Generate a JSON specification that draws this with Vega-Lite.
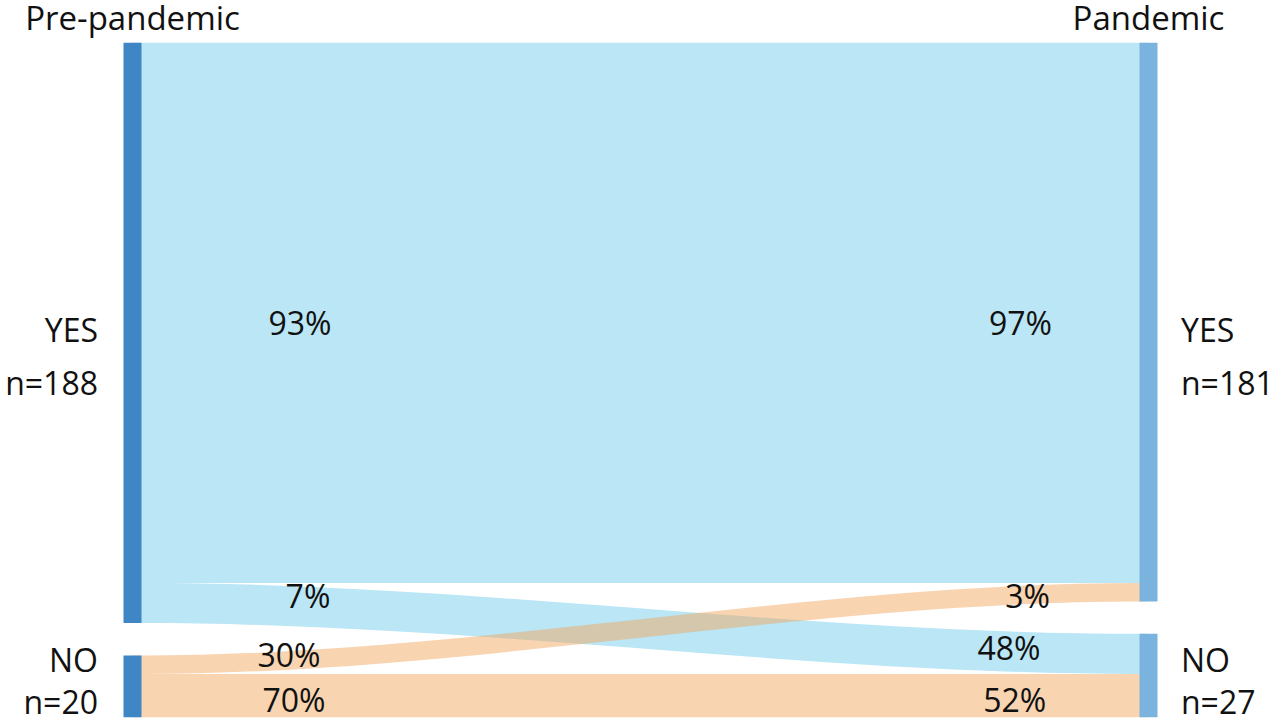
{
  "$schema": "https://vega.github.io/schema/vega-lite/v6.json",
  "width": 1280,
  "height": 724,
  "autosize": {"type": "none"},
  "padding": 0,
  "background": "white",
  "config": {
    "view": {"stroke": null},
    "text": {"font": "Open Sans", "fontSize": 32, "color": "#111111", "baseline": "alphabetic"}
  },
  "datasets": {
    "flows": [
      {"flow": "YES-YES", "from": "YES", "t": 0, "top": 0, "bottom": 175},
      {"flow": "YES-YES", "from": "YES", "t": 0.009, "top": 0, "bottom": 175},
      {"flow": "YES-YES", "from": "YES", "t": 0.991, "top": 0, "bottom": 175},
      {"flow": "YES-YES", "from": "YES", "t": 1, "top": 0, "bottom": 175},
      {"flow": "YES-NO", "from": "YES", "t": 0, "top": 175, "bottom": 188},
      {"flow": "YES-NO", "from": "YES", "t": 0.009, "top": 175, "bottom": 188},
      {"flow": "YES-NO", "from": "YES", "t": 0.991, "top": 191.5, "bottom": 204.5},
      {"flow": "YES-NO", "from": "YES", "t": 1, "top": 191.5, "bottom": 204.5},
      {"flow": "NO-YES", "from": "NO", "t": 0, "top": 198.5, "bottom": 204.5},
      {"flow": "NO-YES", "from": "NO", "t": 0.009, "top": 198.5, "bottom": 204.5},
      {"flow": "NO-YES", "from": "NO", "t": 0.991, "top": 175, "bottom": 181},
      {"flow": "NO-YES", "from": "NO", "t": 1, "top": 175, "bottom": 181},
      {"flow": "NO-NO", "from": "NO", "t": 0, "top": 204.5, "bottom": 218.5},
      {"flow": "NO-NO", "from": "NO", "t": 0.009, "top": 204.5, "bottom": 218.5},
      {"flow": "NO-NO", "from": "NO", "t": 0.991, "top": 204.5, "bottom": 218.5},
      {"flow": "NO-NO", "from": "NO", "t": 1, "top": 204.5, "bottom": 218.5}
    ],
    "nodes": [
      {"period": "Pre-pandemic", "stage": 0, "node": "YES", "n": 188, "top": 0, "bottom": 188},
      {"period": "Pre-pandemic", "stage": 0, "node": "NO", "n": 20, "top": 198.5, "bottom": 218.5},
      {"period": "Pandemic", "stage": 1, "node": "YES", "n": 181, "top": 0, "bottom": 181},
      {"period": "Pandemic", "stage": 1, "node": "NO", "n": 27, "top": 191.5, "bottom": 218.5}
    ],
    "pct": [
      {"label": "93%", "x": 0.1649, "y": 94.8},
      {"label": "7%", "x": 0.1727, "y": 183.1},
      {"label": "30%", "x": 0.154, "y": 202.2},
      {"label": "70%", "x": 0.159, "y": 216.7},
      {"label": "97%", "x": 0.874, "y": 94.7},
      {"label": "3%", "x": 0.881, "y": 183.1},
      {"label": "48%", "x": 0.8627, "y": 200.0},
      {"label": "52%", "x": 0.8683, "y": 216.7}
    ],
    "nodeLabels": [
      {"label": "YES", "stage": 0, "y": 97.1},
      {"label": "n=188", "stage": 0, "y": 114.0},
      {"label": "NO", "stage": 0, "y": 203.9},
      {"label": "n=20", "stage": 0, "y": 217.6},
      {"label": "YES", "stage": 1, "y": 97.1},
      {"label": "n=181", "stage": 1, "y": 114.0},
      {"label": "NO", "stage": 1, "y": 203.9},
      {"label": "n=27", "stage": 1, "y": 217.6}
    ]
  },
  "layer": [
    {
      "data": {"name": "flows"},
      "transform": [{"filter": "datum.from == 'YES'"}],
      "mark": {"type": "area", "interpolate": "monotone", "color": "#BAE6F5"},
      "encoding": {
        "x": {"field": "t", "type": "quantitative", "scale": {"domain": [-0.13041, 1.12943], "nice": false, "zero": false}, "axis": null},
        "y": {"field": "top", "type": "quantitative", "stack": null, "scale": {"domain": [-13.83, 220.7], "reverse": true, "nice": false, "zero": false}, "axis": null},
        "y2": {"field": "bottom"},
        "detail": {"field": "flow"}
      }
    },
    {
      "data": {"name": "flows"},
      "transform": [{"filter": "datum.from == 'NO'"}],
      "mark": {"type": "area", "interpolate": "monotone", "color": "#F0A55D", "opacity": 0.48},
      "encoding": {
        "x": {"field": "t", "type": "quantitative", "scale": {"domain": [-0.13041, 1.12943], "nice": false, "zero": false}, "axis": null},
        "y": {"field": "top", "type": "quantitative", "stack": null, "scale": {"domain": [-13.83, 220.7], "reverse": true, "nice": false, "zero": false}, "axis": null},
        "y2": {"field": "bottom"},
        "detail": {"field": "flow"}
      }
    },
    {
      "data": {"name": "nodes"},
      "mark": {"type": "rule", "strokeWidth": 18, "strokeCap": "butt"},
      "encoding": {
        "x": {"field": "stage", "type": "quantitative", "scale": {"domain": [-0.13041, 1.12943], "nice": false, "zero": false}, "axis": null},
        "y": {"field": "top", "type": "quantitative", "scale": {"domain": [-13.83, 220.7], "reverse": true, "nice": false, "zero": false}, "axis": null},
        "y2": {"field": "bottom"},
        "color": {"field": "period", "type": "nominal", "scale": {"domain": ["Pre-pandemic", "Pandemic"], "range": ["#3E87C4", "#7AB3DD"]}, "legend": null}
      }
    },
    {
      "data": {"name": "nodes"},
      "transform": [{"filter": "datum.node == 'YES'"}],
      "mark": {"type": "text", "align": "center", "dy": -12.5, "fontSize": 33},
      "encoding": {
        "x": {"field": "stage", "type": "quantitative", "scale": {"domain": [-0.13041, 1.12943], "nice": false, "zero": false}, "axis": null},
        "y": {"field": "top", "type": "quantitative", "scale": {"domain": [-13.83, 220.7], "reverse": true, "nice": false, "zero": false}, "axis": null},
        "text": {"field": "period"}
      }
    },
    {
      "data": {"name": "pct"},
      "mark": {"type": "text", "align": "center"},
      "encoding": {
        "x": {"field": "x", "type": "quantitative", "scale": {"domain": [-0.13041, 1.12943], "nice": false, "zero": false}, "axis": null},
        "y": {"field": "y", "type": "quantitative", "scale": {"domain": [-13.83, 220.7], "reverse": true, "nice": false, "zero": false}, "axis": null},
        "text": {"field": "label"}
      }
    },
    {
      "data": {"name": "nodeLabels"},
      "transform": [{"filter": "datum.stage == 0"}],
      "mark": {"type": "text", "align": "right", "dx": -34.5},
      "encoding": {
        "x": {"field": "stage", "type": "quantitative", "scale": {"domain": [-0.13041, 1.12943], "nice": false, "zero": false}, "axis": null},
        "y": {"field": "y", "type": "quantitative", "scale": {"domain": [-13.83, 220.7], "reverse": true, "nice": false, "zero": false}, "axis": null},
        "text": {"field": "label"}
      }
    },
    {
      "data": {"name": "nodeLabels"},
      "transform": [{"filter": "datum.stage == 1"}],
      "mark": {"type": "text", "align": "left", "dx": 32.5},
      "encoding": {
        "x": {"field": "stage", "type": "quantitative", "scale": {"domain": [-0.13041, 1.12943], "nice": false, "zero": false}, "axis": null},
        "y": {"field": "y", "type": "quantitative", "scale": {"domain": [-13.83, 220.7], "reverse": true, "nice": false, "zero": false}, "axis": null},
        "text": {"field": "label"}
      }
    }
  ]
}
